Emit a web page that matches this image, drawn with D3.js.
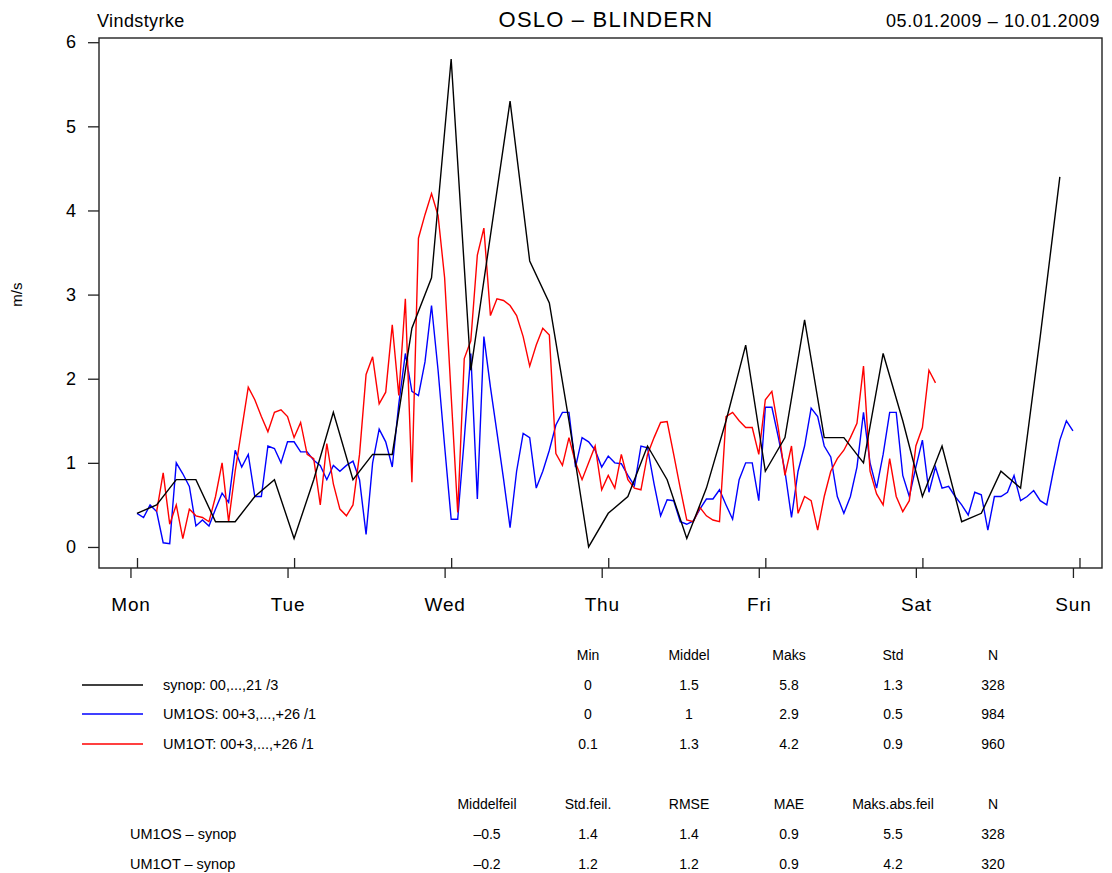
<!DOCTYPE html>
<html>
<head>
<meta charset="utf-8">
<script src="https://cdn.jsdelivr.net/npm/d3@7"></script>
<style>
  html, body { margin: 0; padding: 0; background: #fff; }
  svg { display: block; font-family: "Liberation Sans", Arial, Helvetica, sans-serif; }
</style>
</head>
<body>
<svg id="chart" width="1112" height="873"></svg>
<script>
// Wind speed at Oslo – Blindern, observations vs. two model runs.
// Time is in hours after Monday 00 UTC; day labels sit at local midnight (UTC+1).

const dayLabels = ["Mon", "Tue", "Wed", "Thu", "Fri", "Sat", "Sun"];
const yTicks = [0, 1, 2, 3, 4, 5, 6];

// synop observations, every 3 hours from 00 UTC
const synopStart = 0, synopStep = 3;
const synop = [
  0.4, 0.5, 0.8, 0.8, 0.3, 0.3, 0.6, 0.8,
  0.1, 0.8, 1.6, 0.8, 1.1, 1.1, 2.6, 3.2,
  5.8, 2.1, 3.7, 5.3, 3.4, 2.9, 1.5, 0.0,
  0.4, 0.6, 1.2, 0.8, 0.1, 0.7, 1.5, 2.4,
  0.9, 1.3, 2.7, 1.3, 1.3, 1.0, 2.3, 1.5,
  0.6, 1.2, 0.3, 0.4, 0.9, 0.7, 2.5, 4.4
];

// UM1OS, hourly
const um1osStart = 0, um1osStep = 1;
const um1os = [
  0.40, 0.35, 0.50, 0.42, 0.05, 0.04, 1.00, 0.87, 0.72, 0.25, 0.32, 0.25,
  0.45, 0.64, 0.53, 1.15, 0.95, 1.10, 0.60, 0.60, 1.20, 1.17, 1.00, 1.25,
  1.25, 1.13, 1.13, 1.03, 0.97, 0.80, 0.97, 0.90, 0.97, 1.02, 0.80, 0.15,
  1.00, 1.40, 1.25, 0.95, 1.70, 2.30, 1.85, 1.80, 2.20, 2.87, 2.10, 1.20,
  0.33, 0.33, 1.28, 2.30, 0.57, 2.50, 1.90, 1.36, 0.81, 0.23, 0.90, 1.35,
  1.30, 0.70, 0.90, 1.15, 1.45, 1.60, 1.60, 0.95, 1.30, 1.25, 1.15, 0.95,
  1.08, 1.00, 0.99, 0.85, 0.73, 1.20, 1.18, 0.75, 0.37, 0.56, 0.55, 0.30,
  0.27, 0.31, 0.45, 0.57, 0.57, 0.68, 0.50, 0.33, 0.80, 1.00, 1.00, 0.55,
  1.66, 1.66, 1.30, 0.90, 0.35, 0.90, 1.20, 1.65, 1.55, 1.20, 1.07, 0.60,
  0.40, 0.60, 0.95, 1.60, 1.00, 0.70, 1.10, 1.60, 1.60, 0.85, 0.60, 0.95,
  1.27, 0.65, 0.95, 0.70, 0.72, 0.60, 0.50, 0.38, 0.65, 0.62, 0.20, 0.60,
  0.60, 0.65, 0.85, 0.55, 0.60, 0.67, 0.55, 0.50, 0.90, 1.27, 1.50, 1.38
];

// UM1OT, hourly
const um1otStart = 3, um1otStep = 1;
const um1ot = [
  0.42, 0.88, 0.27, 0.50, 0.10, 0.45, 0.37, 0.35, 0.30,
  0.60, 1.00, 0.30, 0.90, 1.40, 1.90, 1.75, 1.55, 1.37, 1.60, 1.63, 1.55,
  1.30, 1.48, 1.10, 1.05, 0.50, 1.23, 0.75, 0.45, 0.37, 0.50, 1.10, 2.05,
  2.26, 1.70, 1.84, 2.64, 1.80, 2.95, 0.77, 3.67, 3.95, 4.20, 3.94, 3.20,
  1.80, 0.41, 2.24, 2.45, 3.47, 3.79, 2.75, 2.95, 2.93, 2.87, 2.75, 2.50,
  2.15, 2.40, 2.60, 2.52, 1.11, 0.97, 1.30, 1.00, 0.80, 1.00, 1.20, 0.68,
  0.85, 0.70, 1.10, 0.80, 0.70, 0.68, 1.10, 1.30, 1.48, 1.49, 1.10, 0.70,
  0.32, 0.30, 0.47, 0.37, 0.32, 0.30, 1.55, 1.60, 1.50, 1.42, 1.42, 1.10,
  1.75, 1.85, 1.40, 0.85, 1.20, 0.40, 0.60, 0.55, 0.20, 0.60, 0.90, 1.05,
  1.15, 1.30, 1.47, 2.15, 0.90, 0.63, 0.50, 1.05, 0.60, 0.42, 0.55, 1.20,
  1.42, 2.10, 1.95
];

// legend / statistics table
const seriesNames = ["synop: 00,...,21 /3", "UM1OS: 00+3,...,+26 /1", "UM1OT: 00+3,...,+26 /1"];
const seriesColors = ["#000000", "#0000ff", "#ff0000"];
const statHeaders = ["Min", "Middel", "Maks", "Std", "N"];
const statRows = [
  ["0", "1.5", "5.8", "1.3", "328"],
  ["0", "1", "2.9", "0.5", "984"],
  ["0.1", "1.3", "4.2", "0.9", "960"]
];

// error table
const errNames = ["UM1OS \u2013 synop", "UM1OT \u2013 synop"];
const errHeaders = ["Middelfeil", "Std.feil.", "RMSE", "MAE", "Maks.abs.feil", "N"];
const errRows = [
  ["\u20130.5", "1.4", "1.4", "0.9", "5.5", "328"],
  ["\u20130.2", "1.2", "1.2", "0.9", "4.2", "320"]
];

const svg = d3.select("#chart");
const FONT = "\"Liberation Sans\", Arial, sans-serif";

const plot = { left: 99, right: 1102, top: 38, bottom: 568 };

const x = d3.scaleLinear().domain([-5.806, 147.44]).range([plot.left, plot.right]);
const y = d3.scaleLinear().domain([-0.25, 6.05]).range([plot.bottom, plot.top]);

const toPoints = (arr, start, step) => arr.map((v, i) => ({ h: start + i * step, v }));

const line = d3.line().x(d => x(d.h)).y(d => y(d.v));

// header
svg.append("text").attr("x", 97).attr("y", 27)
  .attr("font-size", 18).attr("letter-spacing", 0.4).text("Vindstyrke");
svg.append("text").attr("x", 606).attr("y", 27).attr("text-anchor", "middle")
  .attr("font-size", 22).attr("letter-spacing", 1.2).text("OSLO \u2013 BLINDERN");
svg.append("text").attr("x", 1100).attr("y", 27).attr("text-anchor", "end")
  .attr("font-size", 18).attr("letter-spacing", 0.6).text("05.01.2009 \u2013 10.01.2009");

// y axis
const yAxis = svg.append("g")
  .attr("transform", `translate(${plot.left},0)`)
  .call(d3.axisLeft(y).tickValues(yTicks).tickSize(11).tickPadding(12).tickFormat(d3.format("d")));
yAxis.select(".domain").remove();
yAxis.selectAll("line").attr("stroke", "#222").attr("stroke-width", 1.3);
yAxis.selectAll("text").attr("font-size", 18).attr("fill", "#000").attr("font-family", FONT);

svg.append("text")
  .attr("transform", `translate(22,${y(3)}) rotate(-90)`)
  .attr("text-anchor", "middle").attr("font-size", 15).text("m/s");

// x axis: labelled ticks at local midnight, inner ticks at 00 UTC
const labelHours = dayLabels.map((_, i) => -1 + 24 * i);
const utcHours = dayLabels.map((_, i) => 24 * i);

const xAxis = svg.append("g")
  .attr("transform", `translate(0,${plot.bottom})`)
  .call(d3.axisBottom(x).tickValues(labelHours).tickSize(10).tickPadding(20)
    .tickFormat((d, i) => dayLabels[i]));
xAxis.select(".domain").remove();
xAxis.selectAll("line").attr("stroke", "#222").attr("stroke-width", 1.3);
xAxis.selectAll("text").attr("font-size", 19).attr("fill", "#000").attr("font-family", FONT)
  .attr("letter-spacing", 0.8);

const xInner = svg.append("g")
  .attr("transform", `translate(0,${plot.bottom})`)
  .call(d3.axisTop(x).tickValues(utcHours).tickSize(10).tickFormat(""));
xInner.select(".domain").remove();
xInner.selectAll("line").attr("stroke", "#222").attr("stroke-width", 1.3);

// series
const seriesData = [
  toPoints(um1os, um1osStart, um1osStep),
  toPoints(um1ot, um1otStart, um1otStep),
  toPoints(synop, synopStart, synopStep)
];
const drawColors = [seriesColors[1], seriesColors[2], seriesColors[0]];
seriesData.forEach((pts, i) => {
  svg.append("path")
    .datum(pts)
    .attr("fill", "none")
    .attr("stroke", drawColors[i])
    .attr("stroke-width", 1.4)
    .attr("stroke-linejoin", "miter")
    .attr("d", line);
});

// plot frame
svg.append("rect")
  .attr("x", plot.left).attr("y", plot.top)
  .attr("width", plot.right - plot.left).attr("height", plot.bottom - plot.top)
  .attr("fill", "none").attr("stroke", "#222").attr("stroke-width", 1.4);

// statistics table
const statCols = [588, 689, 789, 893, 993];
const tFont = 14;
const g1 = svg.append("g").attr("font-size", tFont);
g1.selectAll("text.h").data(statHeaders).join("text")
  .attr("x", (d, i) => statCols[i]).attr("y", 660).attr("text-anchor", "middle").text(d => d);
const rowY1 = [685, 714, 744];
seriesNames.forEach((name, r) => {
  g1.append("line")
    .attr("x1", 82).attr("x2", 143).attr("y1", rowY1[r]).attr("y2", rowY1[r])
    .attr("stroke", seriesColors[r]).attr("stroke-width", 1.4);
  g1.append("text").attr("x", 163).attr("y", rowY1[r] + 5).attr("font-size", 14.5).text(name);
  g1.selectAll(null).data(statRows[r]).join("text")
    .attr("x", (d, i) => statCols[i]).attr("y", rowY1[r] + 5)
    .attr("text-anchor", "middle").text(d => d);
});

// error table
const errCols = [487, 588, 689, 789, 893, 993];
const g2 = svg.append("g").attr("font-size", tFont);
g2.selectAll("text.h").data(errHeaders).join("text")
  .attr("x", (d, i) => errCols[i]).attr("y", 809).attr("text-anchor", "middle").text(d => d);
const rowY2 = [834, 864];
errNames.forEach((name, r) => {
  g2.append("text").attr("x", 130).attr("y", rowY2[r] + 5).attr("font-size", 14.5).text(name);
  g2.selectAll(null).data(errRows[r]).join("text")
    .attr("x", (d, i) => errCols[i]).attr("y", rowY2[r] + 5)
    .attr("text-anchor", "middle").text(d => d);
});
</script>
</body>
</html>
